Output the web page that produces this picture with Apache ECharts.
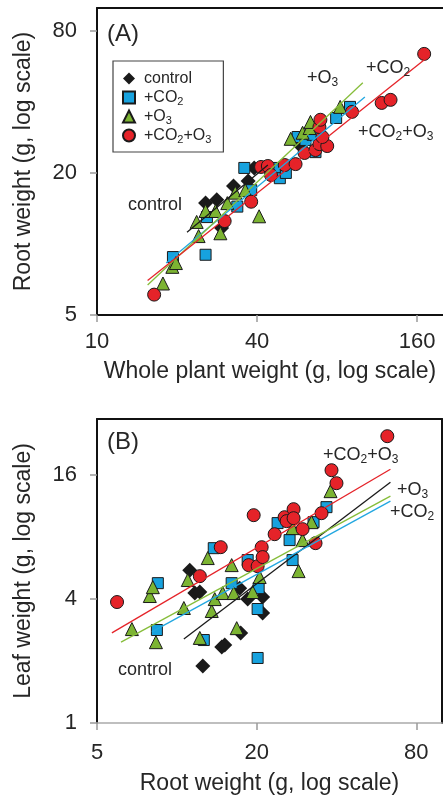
<!DOCTYPE html>
<html>
<head>
<meta charset="utf-8">
<script src="https://cdn.jsdelivr.net/npm/echarts@6/dist/echarts.min.js"></script>
<style>
html,body{margin:0;padding:0;background:#fff;}
#chart{width:443px;height:798px;}
</style>
</head>
<body>
<div id="chart"></div>
<script>
// ---------- tick labels ----------
const ticksAX = [10, 40, 160];
const ticksAY = [5, 20, 80];
const ticksBX = [5, 20, 80];
const ticksBY = [1, 4, 16];

// ---------- Panel A: root weight vs whole plant weight ----------
const ctrlA = [[25.6,14.9],[28.2,15.4],[29.4,11.7],[32.6,17.6],[37.0,18.5],[39.0,21.0],[58.3,26.0]];
const co2A = [[19.3,8.8],[25.6,9.0],[25.9,13.0],[33.7,14.4],[38.0,16.9],[35.8,21.0],[46.7,21.0],[48.7,19.0],[51.3,20.0],[56.8,28.4],[60.8,27.6],[66.3,24.5],[64.6,29.0],[79.3,34.2],[89.4,38.1]];
const o3A = [[17.7,6.8],[19.2,8.0],[19.8,8.3],[24.1,10.8],[23.7,12.4],[25.6,13.8],[27.9,13.8],[29.1,11.1],[30.9,14.9],[33.1,16.5],[36.1,16.9],[40.7,13.1],[53.5,27.9],[59.3,29.6],[63.0,31.0],[63.5,32.9],[82.1,38.1]];
const bothA = [[16.4,6.1],[30.2,12.5],[38.0,15.1],[41.4,21.2],[43.9,21.4],[45.1,19.6],[50.8,21.6],[55.8,21.8],[60.3,24.3],[66.3,25.0],[68.6,26.5],[73.4,26.0],[70.4,28.4],[68.6,31.3],[69.2,33.6],[91.0,36.3],[117.6,39.6],[127.0,40.8],[169.9,63.9]];
const fitCtrlA = [[21.8,11.2],[43.9,21.6]];
const fitCo2A = [[18.2,8.3],[101.7,42.0]];
const fitO3A = [[15.5,6.7],[99.9,48.2]];
const fitBothA = [[15.5,7.0],[175.8,62.1]];

// ---------- Panel B: leaf weight vs root weight ----------
const ctrlB = [[11.19,5.53],[11.69,4.28],[12.21,4.33],[17.26,4.52],[18.50,4.00],[21.07,4.09],[21.07,3.42],[17.41,2.74],[14.77,2.34],[15.16,2.39],[12.53,1.89]];
const co2B = [[8.48,4.78],[8.41,2.83],[12.64,2.53],[13.78,7.07],[16.10,4.78],[18.50,6.19],[20.35,4.52],[20.17,3.58],[20.17,2.07],[26.62,7.74],[27.32,6.19],[23.99,9.36],[32.78,9.46],[36.68,11.19]];
const o3B = [[6.77,2.86],[7.91,4.14],[8.12,4.57],[8.34,2.47],[10.63,3.62],[11.00,4.95],[12.21,2.59],[13.08,6.33],[13.54,3.50],[13.90,4.00],[14.90,4.28],[16.39,4.28],[16.10,5.85],[16.82,2.89],[19.32,4.33],[20.53,5.12],[27.32,8.85],[29.80,7.74],[28.78,5.47],[32.21,9.46],[37.98,13.38]];
const bothB = [[5.95,3.87],[12.21,5.17],[14.64,7.15],[18.66,5.85],[20.17,5.78],[20.89,7.15],[21.07,6.40],[19.49,10.23],[23.38,8.27],[25.49,10.00],[25.94,9.57],[27.56,10.94],[27.56,9.89],[29.80,8.75],[33.35,7.48],[35.13,10.46],[38.31,16.92],[40.00,14.63],[62.2,24.75]];
const fitCtrlB = [[10.63,2.56],[63.9,14.80]];
const fitCo2B = [[8.05,2.77],[63.9,11.97]];
const fitO3B = [[6.16,2.47],[63.9,12.65]];
const fitBothB = [[5.69,2.74],[63.9,17.11]];

const names = ['control', '+CO2', '+O3', '+CO2+O3'];
const richNames = {'control':'control', '+CO2':'+CO{s|2}', '+O3':'+O{s|3}', '+CO2+O3':'+CO{s|2}+O{s|3}'};

// ---------- styling ----------
const F = "'Liberation Sans', Arial, Helvetica, sans-serif";
const TXT = '#262626';
const C = {ctrl:'#1a1a1a', co2:'#17a2de', o3:'#7cb432', both:'#e52329'};
const LC = {ctrl:'#1a1a1a', co2:'#22a7e0', o3:'#86bd3a', both:'#e52329'};

function scat(name, data, xi, yi, sym, size, color) {
  return {
    type:'scatter', name:name, data:data, xAxisIndex:xi, yAxisIndex:yi,
    symbol:sym, symbolSize:size,
    itemStyle:{color:color, borderColor:'#1a1a1a', borderWidth: sym === 'diamond' ? 0 : 1, opacity:1},
    emphasis:{disabled:true}, z:2, clip:false
  };
}
function fit(data, xi, yi, color) {
  return {
    type:'line', data:data, xAxisIndex:xi, yAxisIndex:yi, symbol:'none',
    lineStyle:{color:color, width:1.3}, z:3, silent:true, emphasis:{disabled:true}
  };
}
function mainAxis(grid, min, max, ticks, pos, name, nameGap, lineColor, lineWidth, margin) {
  return {
    gridIndex:grid, type:'log', logBase:4, min:min, max:max, position:pos,
    axisLine:{show:true, onZero:false, lineStyle:{color:lineColor, width:lineWidth}},
    axisTick:{show:true, inside:false, length:7, customValues:ticks, lineStyle:{color:'#9a9a9a', width:1.5}},
    axisLabel:{show:true, customValues:ticks, fontSize:22, fontFamily:F, color:TXT, margin:margin},
    splitLine:{show:false}, minorTick:{show:false}, minorSplitLine:{show:false},
    name:name, nameLocation:'middle', nameGap:nameGap,
    nameTextStyle:{fontSize:23, fontFamily:F, color:TXT}
  };
}
function frameAxis(grid, min, max, pos) {
  return {
    gridIndex:grid, type:'log', logBase:4, min:min, max:max, position:pos,
    axisLine:{show:true, onZero:false, lineStyle:{color:'#111', width:2}},
    axisTick:{show:false}, axisLabel:{show:false}, splitLine:{show:false}, minorTick:{show:false}
  };
}
function note(x, y, text, size) {
  return {
    type:'text', x:x, y:y, z:10,
    style:{text:text, fontSize:size, fontFamily:F, fill:TXT, lineHeight:size + 4,
      align:'left', verticalAlign:'middle',
      rich:{s:{fontSize:12, lineHeight:12, fontFamily:F, fill:TXT, verticalAlign:'bottom'}}}
  };
}

const chart = echarts.init(document.getElementById('chart'), null, {renderer:'canvas'});
chart.setOption({
  animation:false,
  backgroundColor:'#fff',
  grid:[
    {left:97, top:8, right:-4, bottom:483},
    {left:97, top:419, right:1, bottom:75}
  ],
  xAxis:[
    mainAxis(0, 10, 200, ticksAX, 'bottom', 'Whole plant weight (g, log scale)', 45, '#111', 2, 16),
    frameAxis(0, 10, 200, 'top'),
    mainAxis(1, 5, 100, ticksBX, 'bottom', 'Root weight (g, log scale)', 49, '#aaaaaa', 1.5, 19),
    frameAxis(1, 5, 100, 'top')
  ],
  yAxis:[
    mainAxis(0, 5, 100, ticksAY, 'left', 'Root weight (g, log scale)', 62, '#111', 2, 20),
    mainAxis(1, 1, 30, ticksBY, 'left', 'Leaf weight (g, log scale)', 62, '#111', 2, 20),
    frameAxis(1, 1, 30, 'right')
  ],
  legend:{
    data:names, orient:'vertical', left:113, top:61,
    itemWidth:12, itemHeight:12, itemGap:0,
    padding:[8,12,7,9], borderColor:'#444', borderWidth:1.2, backgroundColor:'#fff',
    selectedMode:false,
    formatter:function(n){ return richNames[n]; },
    textStyle:{fontSize:16, fontFamily:F, color:TXT, lineHeight:19, padding:[0,0,0,4],
      rich:{s:{fontSize:11, lineHeight:11, fontFamily:F, color:TXT, verticalAlign:'bottom'}}}
  },
  graphic:[
    note(107, 34, '(A)', 24),
    note(128, 205, 'control', 18),
    note(307, 78, '+O{s|3}', 18),
    note(366, 68, '+CO{s|2}', 18),
    note(358, 132, '+CO{s|2}+O{s|3}', 18),
    note(107, 442, '(B)', 24),
    note(323, 455, '+CO{s|2}+O{s|3}', 18),
    note(397, 490, '+O{s|3}', 18),
    note(390, 512, '+CO{s|2}', 18),
    note(118, 670, 'control', 18)
  ],
  series:[
    scat('control', ctrlA, 0, 0, 'diamond', 15, C.ctrl),
    scat('+CO2', co2A, 0, 0, 'rect', 11, C.co2),
    scat('+O3', o3A, 0, 0, 'triangle', 13, C.o3),
    scat('+CO2+O3', bothA, 0, 0, 'circle', 13, C.both),
    fit(fitCtrlA, 0, 0, LC.ctrl),
    fit(fitCo2A, 0, 0, LC.co2),
    fit(fitO3A, 0, 0, LC.o3),
    fit(fitBothA, 0, 0, LC.both),
    scat('control', ctrlB, 2, 1, 'diamond', 15, C.ctrl),
    scat('+CO2', co2B, 2, 1, 'rect', 11, C.co2),
    scat('+O3', o3B, 2, 1, 'triangle', 13, C.o3),
    scat('+CO2+O3', bothB, 2, 1, 'circle', 13, C.both),
    fit(fitCtrlB, 2, 1, LC.ctrl),
    fit(fitCo2B, 2, 1, LC.co2),
    fit(fitO3B, 2, 1, LC.o3),
    fit(fitBothB, 2, 1, LC.both)
  ]
});
</script>
</body>
</html>
